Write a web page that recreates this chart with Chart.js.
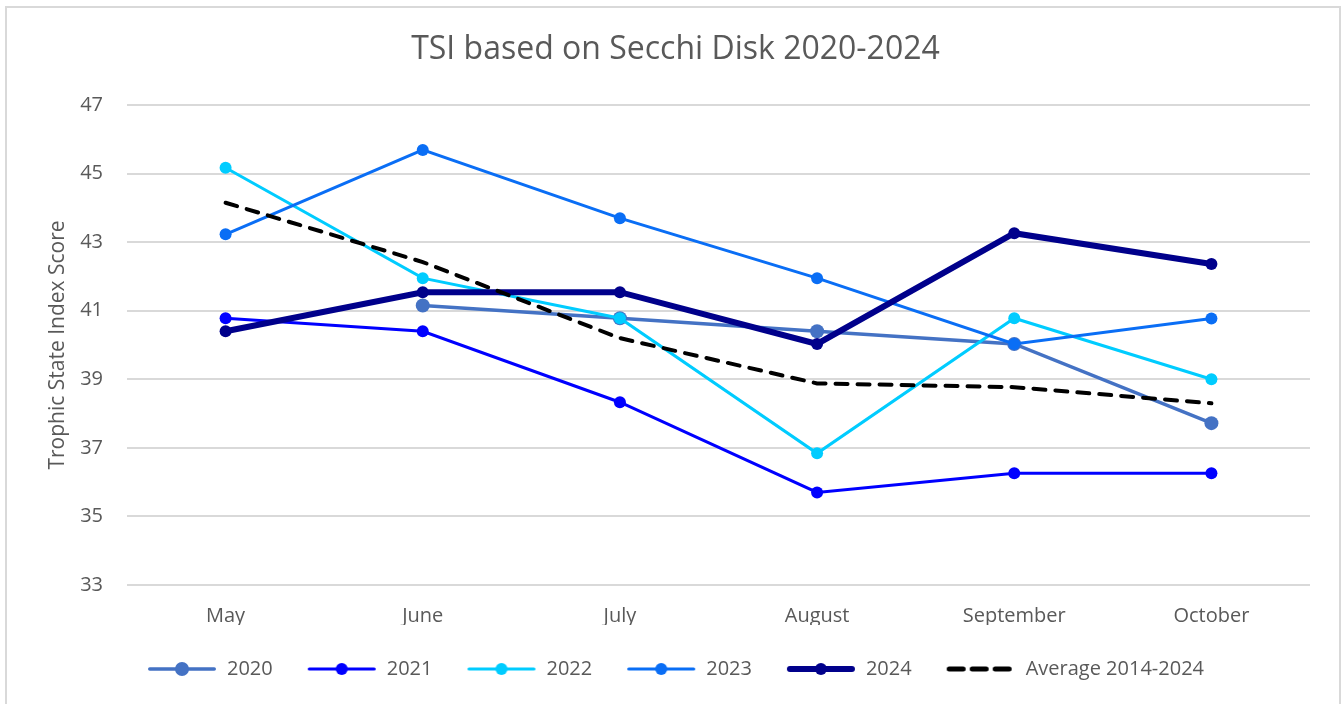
<!DOCTYPE html>
<html>
<head>
<meta charset="utf-8">
<script src="https://cdn.jsdelivr.net/npm/chart.js@4"></script>
<style>
  body { margin: 0; background: #fff; }
  .frame { position: absolute; left: 5px; top: 6px; width: 1332px; height: 710px; border: 2px solid #d9d9d9; }
  .wrap { position: absolute; left: 0; top: 0; width: 1342px; height: 704px; }
</style>
</head>
<body>
<div class="frame"></div>
<div class="wrap"><canvas id="tsi"></canvas></div>
<script>
// months sampled
const months = ['May', 'June', 'July', 'August', 'September', 'October'];

// TSI values
const tsi2020 = [null, 41.15, 40.78, 40.4, 40.03, 37.72];
const tsi2021 = [40.78, 40.4, 38.33, 35.7, 36.26, 36.26];
const tsi2022 = [45.17, 41.95, 40.78, 36.84, 40.78, 39.0];
const tsi2023 = [43.23, 45.69, 43.7, 41.95, 40.03, 40.77];
const tsi2024 = [40.4, 41.54, 41.54, 40.03, 43.26, 42.36];
const tsiAverage = [44.15, 42.42, 40.2, 38.88, 38.77, 38.3];

const yTicks = [33, 35, 37, 39, 41, 43, 45, 47];

const textColor = '#595959';
const gridColor = '#d9d9d9';
const font = "'Open Sans', sans-serif";

// little line+dot pictures for the legend
function legendSwatch(color, width, radius, dash) {
  const c = document.createElement('canvas');
  c.width = 70;
  c.height = 16;
  const ctx = c.getContext('2d');
  ctx.strokeStyle = color;
  ctx.lineWidth = width;
  ctx.lineCap = 'round';
  if (dash) ctx.setLineDash(dash);
  ctx.beginPath();
  ctx.moveTo(width / 2 + 1, 8);
  ctx.lineTo(69 - width / 2, 8);
  ctx.stroke();
  if (radius) {
    ctx.fillStyle = color;
    ctx.beginPath();
    ctx.arc(35, 8, radius, 0, Math.PI * 2);
    ctx.fill();
  }
  return c;
}

function series(label, data, color, width, radius, order) {
  return {
    label: label,
    data: data,
    borderColor: color,
    backgroundColor: color,
    borderWidth: width,
    pointRadius: radius,
    pointBackgroundColor: color,
    pointBorderWidth: 0,
    order: order,
    swatch: legendSwatch(color, width, radius)
  };
}

const datasets = [
  series('2020', tsi2020, '#4472c4', 3.5, 7, 6),
  series('2021', tsi2021, '#0000ff', 3, 6, 5),
  series('2022', tsi2022, '#00ccff', 3, 6, 4),
  series('2023', tsi2023, '#0a6ef5', 3, 6, 3),
  series('2024', tsi2024, '#00008b', 6, 6, 2),
  {
    label: 'Average 2014-2024',
    data: tsiAverage,
    borderColor: '#000',
    borderWidth: 4,
    borderDash: [12, 10],
    borderCapStyle: 'round',
    pointRadius: 0,
    order: 1,
    swatch: legendSwatch('#000', 5, 0, [14, 9])
  }
];

new Chart(document.getElementById('tsi'), {
  type: 'line',
  data: { labels: months, datasets: datasets },
  options: {
    responsive: true,
    maintainAspectRatio: false,
    animation: false,
    layout: { padding: { left: 41, right: 32, top: 0, bottom: 15 } },
    plugins: {
      title: {
        display: true,
        text: 'TSI based on Secchi Disk 2020-2024',
        color: textColor,
        font: { family: font, size: 32, weight: 'normal' },
        padding: { top: 31, bottom: 35.6 }
      },
      legend: {
        position: 'bottom',
        labels: {
          color: textColor,
          font: { family: font, size: 20 },
          usePointStyle: true,
          pointStyleWidth: 70,
          padding: 34,
          generateLabels: (chart) => chart.data.datasets.map((ds, i) => ({
            text: ds.label,
            pointStyle: ds.swatch,
            fontColor: textColor,
            datasetIndex: i
          }))
        }
      },
      tooltip: { enabled: false }
    },
    scales: {
      x: {
        offset: true,
        grid: { display: false },
        border: { display: false },
        ticks: { color: textColor, font: { family: font, size: 20 }, padding: 11 },
        afterFit: (scale) => { scale.height = 40; }
      },
      y: {
        min: 33,
        max: 47,
        afterBuildTicks: (scale) => { scale.ticks = yTicks.map(v => ({ value: v })); },
        grid: { color: gridColor, lineWidth: 2, drawTicks: false },
        border: { display: false },
        ticks: { color: textColor, font: { family: font, size: 20 }, padding: 24 },
        title: {
          display: true,
          text: 'Trophic State Index Score',
          color: textColor,
          font: { family: font, size: 21 }
        },
        afterFit: (scale) => { scale.width = 86; }
      }
    }
  }
});
</script>
</body>
</html>
